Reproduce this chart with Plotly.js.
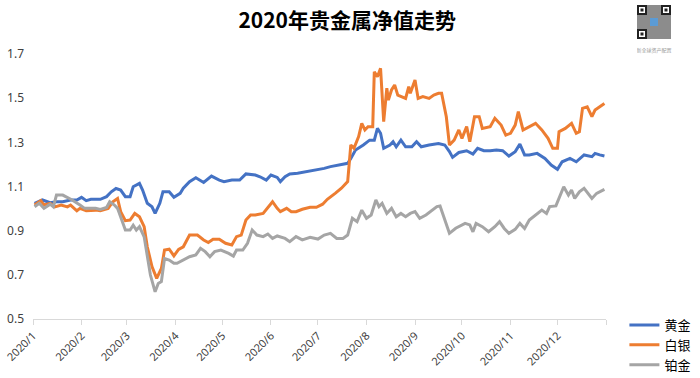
<!DOCTYPE html>
<html>
<head>
<meta charset="utf-8">
<script src="https://cdn.plot.ly/plotly-3.0.1.min.js"></script>
<style>
  html, body { margin: 0; padding: 0; background: #fff; }
  #wrap { position: relative; width: 700px; height: 378px; }
  #chart { width: 700px; height: 378px; }
  #qr { position: absolute; left: 637px; top: 5px; }
</style>
</head>
<body>
<div id="wrap">
  <div id="chart"></div>
  <svg id="qr" width="38" height="52" viewBox="0 0 38 52">
    <rect x="0" y="0" width="34" height="34" fill="#8c8c8c"/>
    <rect x="0" y="0" width="10" height="10" fill="#222"/><rect x="2" y="2" width="6" height="6" fill="#fff"/><rect x="3.5" y="3.5" width="3" height="3" fill="#222"/>
    <rect x="24" y="0" width="10" height="10" fill="#222"/><rect x="26" y="2" width="6" height="6" fill="#fff"/><rect x="27.5" y="3.5" width="3" height="3" fill="#222"/>
    <rect x="0" y="24" width="10" height="10" fill="#222"/><rect x="2" y="26" width="6" height="6" fill="#fff"/><rect x="3.5" y="27.5" width="3" height="3" fill="#222"/>
    <rect x="13" y="13" width="8" height="8" fill="#5b9bd5"/>
    <text x="17" y="47" font-size="5" fill="#999" text-anchor="middle" font-family="Noto Sans CJK SC">新全球资产配置</text>
  </svg>
</div>
<script>
// ---- data ----
const seriesNames = ['黄金', '白银', '铂金'];
const monthTicks = ['2020-01-01','2020-02-01','2020-03-01','2020-04-01','2020-05-01','2020-06-01','2020-07-01','2020-08-01','2020-09-01','2020-10-01','2020-11-01','2020-12-01','2021-01-01'];
const monthLabels = ['2020/1','2020/2','2020/3','2020/4','2020/5','2020/6','2020/7','2020/8','2020/9','2020/10','2020/11','2020/12',''];
const yTicks = [0.5, 0.7, 0.9, 1.1, 1.3, 1.5, 1.7];
const yLabels = ['0.5', '0.7', '0.9', '1.1', '1.3', '1.5', '1.7'];

const goldDates = [
  '2020-01-02','2020-01-07','2020-01-12','2020-01-16','2020-01-20','2020-01-25','2020-01-29',
  '2020-02-01','2020-02-04','2020-02-07','2020-02-13','2020-02-17','2020-02-20','2020-02-23','2020-02-26','2020-02-29',
  '2020-03-03','2020-03-05','2020-03-09','2020-03-11','2020-03-14','2020-03-17','2020-03-19','2020-03-22','2020-03-24','2020-03-28','2020-03-31',
  '2020-04-04','2020-04-06','2020-04-10','2020-04-14','2020-04-19','2020-04-24','2020-04-29',
  '2020-05-02','2020-05-07','2020-05-12','2020-05-16','2020-05-22','2020-05-25','2020-05-29',
  '2020-06-01','2020-06-05','2020-06-07','2020-06-10','2020-06-13','2020-06-18','2020-06-24','2020-06-30',
  '2020-07-05','2020-07-09','2020-07-15','2020-07-20','2020-07-22','2020-07-25','2020-07-30',
  '2020-08-03','2020-08-06','2020-08-08','2020-08-10','2020-08-12','2020-08-16','2020-08-18','2020-08-20','2020-08-23','2020-08-26','2020-08-30',
  '2020-09-02','2020-09-05','2020-09-10','2020-09-16','2020-09-20','2020-09-23','2020-09-25','2020-09-29',
  '2020-10-04','2020-10-08','2020-10-11','2020-10-15','2020-10-19','2020-10-23','2020-10-27','2020-10-31',
  '2020-11-04','2020-11-07','2020-11-10','2020-11-13','2020-11-18','2020-11-23','2020-11-27',
  '2020-12-01','2020-12-04','2020-12-09','2020-12-13','2020-12-18','2020-12-23','2020-12-25','2020-12-28','2020-12-31'
];
const goldValues = [
  1.024,1.039,1.027,1.031,1.031,1.039,1.039,
  1.051,1.036,1.042,1.042,1.054,1.076,1.091,1.084,1.054,
  1.054,1.099,1.114,1.084,1.024,1.008,0.978,1.024,1.076,1.076,1.051,
  1.069,1.092,1.122,1.140,1.118,1.147,1.129,
  1.122,1.129,1.129,1.157,1.152,1.144,1.129,
  1.152,1.141,1.122,1.144,1.157,1.160,1.167,1.175,
  1.182,1.190,1.197,1.205,1.227,1.265,1.288,
  1.310,1.310,1.363,1.341,1.273,1.288,1.303,1.280,1.310,1.280,1.280,
  1.303,1.280,1.288,1.295,1.288,1.258,1.232,1.254,
  1.262,1.247,1.273,1.262,1.262,1.265,1.262,1.238,
  1.258,1.292,1.243,1.243,1.250,1.227,1.197,
  1.178,1.212,1.227,1.212,1.243,1.235,1.250,1.243,1.238
];

const silverDates = [
  '2020-01-02','2020-01-06','2020-01-08','2020-01-12','2020-01-15','2020-01-19','2020-01-23','2020-01-25','2020-01-29','2020-01-31',
  '2020-02-04','2020-02-10','2020-02-13','2020-02-18','2020-02-21','2020-02-24','2020-02-26','2020-02-29',
  '2020-03-03','2020-03-06','2020-03-09','2020-03-12','2020-03-14','2020-03-17','2020-03-20','2020-03-23','2020-03-25','2020-03-28','2020-03-31',
  '2020-04-03','2020-04-06','2020-04-10','2020-04-15','2020-04-19','2020-04-22','2020-04-25','2020-04-29',
  '2020-05-03','2020-05-07','2020-05-10','2020-05-13','2020-05-16','2020-05-19','2020-05-22','2020-05-27','2020-05-31',
  '2020-06-02','2020-06-05','2020-06-07','2020-06-11','2020-06-14','2020-06-17','2020-06-21','2020-06-26','2020-06-30',
  '2020-07-04','2020-07-07','2020-07-12','2020-07-16','2020-07-20','2020-07-22','2020-07-24','2020-07-27','2020-07-29','2020-07-31',
  '2020-08-02','2020-08-05','2020-08-06','2020-08-08','2020-08-10','2020-08-12','2020-08-14','2020-08-15','2020-08-17','2020-08-19','2020-08-21','2020-08-23','2020-08-26','2020-08-28','2020-08-29',
  '2020-09-01','2020-09-03','2020-09-06','2020-09-10','2020-09-13','2020-09-16','2020-09-18','2020-09-21','2020-09-23','2020-09-26','2020-09-29',
  '2020-10-01','2020-10-04','2020-10-06','2020-10-09','2020-10-12','2020-10-14','2020-10-19','2020-10-22','2020-10-26','2020-10-29',
  '2020-11-01','2020-11-04','2020-11-06','2020-11-09','2020-11-13','2020-11-17','2020-11-21','2020-11-25','2020-11-28',
  '2020-12-01','2020-12-02','2020-12-06','2020-12-10','2020-12-13','2020-12-15','2020-12-17','2020-12-20','2020-12-23','2020-12-25','2020-12-28','2020-12-31'
];
const silverValues = [
  1.016,1.036,1.016,1.024,1.008,1.016,1.008,1.016,0.990,1.001,
  0.990,0.993,0.990,1.001,1.031,1.046,0.986,0.945,
  0.948,0.978,0.963,0.918,0.827,0.737,0.684,0.729,0.812,0.816,0.786,
  0.815,0.827,0.880,0.880,0.858,0.846,0.861,0.861,
  0.843,0.835,0.873,0.880,0.948,0.971,0.971,0.978,1.016,
  1.031,1.001,0.986,1.001,0.986,0.986,0.997,1.006,1.006,
  1.020,1.042,1.069,1.092,1.122,1.288,1.273,1.326,1.386,1.356,
  1.371,1.371,1.620,1.597,1.635,1.394,1.545,1.492,1.537,1.560,1.514,1.507,1.499,1.552,1.522,
  1.582,1.499,1.507,1.499,1.514,1.522,1.522,1.416,1.288,1.310,1.356,
  1.318,1.371,1.303,1.416,1.416,1.363,1.371,1.409,1.378,1.333,
  1.341,1.378,1.439,1.356,1.371,1.386,1.356,1.318,1.273,
  1.273,1.348,1.363,1.386,1.341,1.348,1.454,1.461,1.416,1.446,1.461,1.476
];

const platDates = [
  '2020-01-02','2020-01-05','2020-01-08','2020-01-12','2020-01-14','2020-01-16','2020-01-20','2020-01-23','2020-01-26','2020-01-31',
  '2020-02-03','2020-02-06','2020-02-10','2020-02-13','2020-02-17','2020-02-19','2020-02-22','2020-02-24','2020-02-26','2020-02-29',
  '2020-03-03','2020-03-05','2020-03-07','2020-03-09','2020-03-12','2020-03-14','2020-03-16','2020-03-19','2020-03-21','2020-03-23','2020-03-25','2020-03-28','2020-03-31',
  '2020-04-02','2020-04-06','2020-04-10','2020-04-14','2020-04-17','2020-04-20','2020-04-23','2020-04-26','2020-04-30',
  '2020-05-05','2020-05-08','2020-05-10','2020-05-14','2020-05-17','2020-05-20','2020-05-23','2020-05-27','2020-05-30',
  '2020-06-02','2020-06-05','2020-06-10','2020-06-13','2020-06-17','2020-06-21','2020-06-26',
  '2020-07-01','2020-07-05','2020-07-09','2020-07-13','2020-07-17','2020-07-20','2020-07-23','2020-07-26','2020-07-29',
  '2020-08-01','2020-08-04','2020-08-07','2020-08-09','2020-08-11','2020-08-14','2020-08-17','2020-08-20','2020-08-23','2020-08-26','2020-08-29',
  '2020-09-01','2020-09-04','2020-09-08','2020-09-12','2020-09-15','2020-09-17','2020-09-20','2020-09-23','2020-09-27','2020-09-30',
  '2020-10-03','2020-10-06','2020-10-08','2020-10-10','2020-10-14','2020-10-18','2020-10-22','2020-10-25','2020-10-28','2020-10-31',
  '2020-11-04','2020-11-07','2020-11-10','2020-11-13','2020-11-18','2020-11-21','2020-11-24','2020-11-26','2020-11-30',
  '2020-12-02','2020-12-05','2020-12-08','2020-12-10','2020-12-12','2020-12-15','2020-12-18','2020-12-23','2020-12-26','2020-12-31'
];
const platValues = [
  1.008,1.024,1.001,1.020,1.008,1.061,1.061,1.051,1.039,1.016,
  1.001,1.001,1.001,0.996,1.005,1.031,1.016,1.001,0.963,0.903,
  0.903,0.925,0.903,0.918,0.872,0.782,0.699,0.623,0.661,0.669,0.774,0.767,0.752,
  0.752,0.767,0.782,0.790,0.820,0.805,0.782,0.805,0.812,
  0.797,0.785,0.812,0.812,0.843,0.903,0.880,0.873,0.885,
  0.865,0.876,0.865,0.850,0.873,0.858,0.870,
  0.862,0.880,0.888,0.865,0.865,0.880,0.956,0.941,0.993,
  0.956,0.971,1.039,1.009,1.024,0.978,1.001,0.963,0.978,0.963,0.978,
  0.986,0.956,0.971,0.993,1.009,1.012,0.948,0.888,0.911,0.922,
  0.933,0.926,0.895,0.933,0.918,0.895,0.918,0.941,0.910,0.888,
  0.906,0.933,0.910,0.948,0.978,0.993,0.978,1.009,1.012,
  1.046,1.099,1.061,1.084,1.046,1.076,1.092,1.046,1.069,1.087
];

// ---- chart ----
const colors = ['#4472C4', '#ED7D31', '#A5A5A5'];
const xs = [goldDates, silverDates, platDates];
const ys = [goldValues, silverValues, platValues];

const traces = seriesNames.map((name, i) => ({
  type: 'scatter',
  mode: 'lines',
  name: name,
  x: xs[i],
  y: ys[i],
  line: { color: colors[i], width: 3 },
  hoverinfo: 'x+y+name'
}));

const layout = {
  width: 700,
  height: 378,
  margin: { l: 33, r: 94, t: 54, b: 59, autoexpand: false },
  paper_bgcolor: '#ffffff',
  plot_bgcolor: '#ffffff',
  title: {
    text: '2020年贵金属净值走势',
    font: { family: 'Noto Sans CJK SC, sans-serif', size: 21, color: '#000000', weight: 'bold' },
    xref: 'container', x: 0.496, xanchor: 'center',
    yref: 'container', y: 0.946, yanchor: 'middle'
  },
  xaxis: {
    type: 'date',
    range: ['2020-01-01', '2021-01-01'],
    automargin: false,
    tickmode: 'array',
    tickvals: monthTicks,
    ticktext: monthLabels,
    tickangle: -45,
    ticks: 'outside',
    ticklen: 5,
    tickcolor: '#d9d9d9',
    showline: true,
    linecolor: '#d9d9d9',
    linewidth: 1,
    showgrid: false,
    zeroline: false,
    tickfont: { family: 'Noto Sans, sans-serif', size: 11, color: '#404040' }
  },
  yaxis: {
    range: [0.5, 1.7],
    automargin: false,
    tickmode: 'array',
    tickvals: yTicks,
    ticktext: yLabels,
    showgrid: false,
    zeroline: false,
    showline: false,
    ticks: '',
    ticklabelstandoff: 8,
    tickfont: { family: 'Noto Sans, sans-serif', size: 12, color: '#404040' }
  },
  showlegend: true,
  legend: {
    xref: 'container', yref: 'container',
    x: 0.892, xanchor: 'left',
    y: 0.18, yanchor: 'top',
    font: { family: 'Noto Sans CJK SC, sans-serif', size: 13, color: '#000000' },
    bgcolor: 'rgba(0,0,0,0)',
    itemwidth: 30,
    tracegroupgap: 0
  }
};

Plotly.newPlot('chart', traces, layout, { displayModeBar: false, staticPlot: true });
</script>
</body>
</html>
